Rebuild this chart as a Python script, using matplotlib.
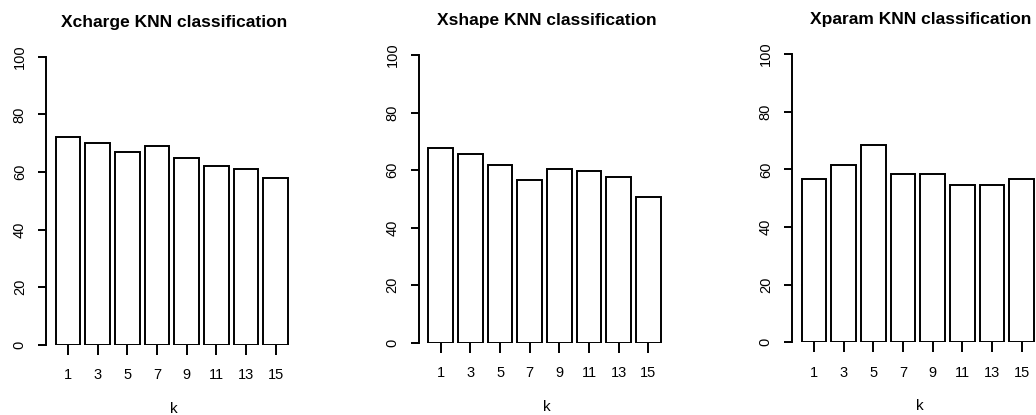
import numpy as np
import matplotlib
matplotlib.use("Agg")
import matplotlib.pyplot as plt


##### taux de bonne classification (%) pour chaque k #####
k_values = [1, 3, 5, 7, 9, 11, 13, 15]
xcharge_rates = [72, 70, 67, 69, 65, 62, 61, 58]
xshape_rates = [67.6, 65.5, 61.6, 56.6, 60.5, 59.7, 57.7, 50.7]
xparam_rates = [56.6, 61.6, 68.5, 58.5, 58.5, 54.5, 54.5, 56.6]
titles = ["Xcharge KNN classification", "Xshape KNN classification", "Xparam KNN classification"]
y_ticks = [0, 20, 40, 60, 80, 100]

W, H = 1036, 415
# gauche, bas (0 %), haut (100 %) de chaque panneau, en pixels
panels = [(46.3, 344.5, 57.0), (419.0, 342.5, 55.0), (792.3, 342.3, 54.0)]
PANEL_W = 256.0

plt.rcParams['font.family'] = ['Liberation Sans', 'DejaVu Sans']
LW = 1.4


##### un barplot facon R #####
def drawBarplot (fig, box, rates, title):
    left, y0, y100 = box
    ax = fig.add_axes([left / W, (H - y0) / H, PANEL_W / W, (y0 - y100) / H])
    ax.patch.set_alpha(0)

    pos = 0.7 + 1.2 * np.arange(len(rates))
    ax.bar(pos, rates, width=1.0, color="white", edgecolor="black", linewidth=LW)

    ax.set_xlim(-0.184, 10.184)
    ax.set_ylim(0, 100)
    for s in ["top", "right", "bottom"]:
        ax.spines[s].set_visible(False)
    ax.spines["left"].set_linewidth(LW)
    ax.spines["left"].set_bounds(0, 100)

    ax.set_yticks(y_ticks)
    ax.set_yticklabels([str(v) for v in y_ticks], rotation=90, va="center", fontsize=10.5)
    ax.set_xticks(pos)
    ax.set_xticklabels([str(k) for k in k_values], fontsize=10.5)
    ax.tick_params(axis="y", length=6, width=LW, pad=8)
    ax.tick_params(axis="x", length=7, width=LW, pad=10)

    ax.set_title(title, fontsize=12.5, fontweight="bold", pad=21.5)
    ax.annotate("k", xy=(0.5, 0), xycoords="axes fraction", xytext=(0, -49),
                textcoords="offset points", ha="center", va="baseline", fontsize=11)
    return ax


fig = plt.figure(figsize=(W / 100, H / 100), dpi=100)
for box, rates, title in zip(panels, [xcharge_rates, xshape_rates, xparam_rates], titles):
    drawBarplot(fig, box, rates, title)

fig.savefig("out.png", dpi=100)
